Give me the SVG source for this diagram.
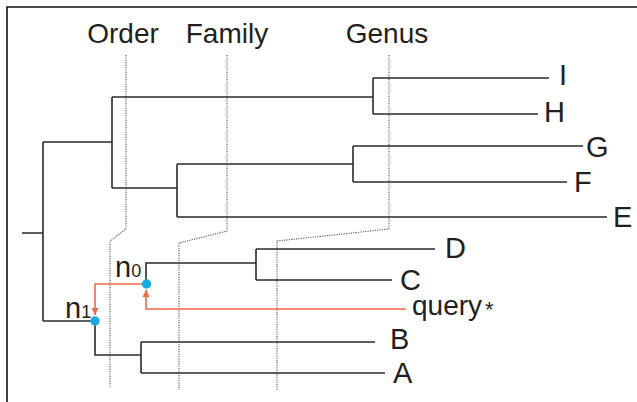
<svg xmlns="http://www.w3.org/2000/svg" width="637" height="402" viewBox="0 0 637 402">
<defs>
<style>
.t{font-family:"Liberation Sans",Arial,sans-serif;fill:#231f20}
.br{fill:none;stroke:#2b2b2b;stroke-width:1.6}
.dot{fill:none;stroke:#555;stroke-width:1.1;stroke-dasharray:1.2 1.2}
.or{fill:none;stroke:#ef6a45;stroke-width:1.6}
.node{fill:#1aaae2}
.lf{font-size:29px}
</style>
<marker id="ah" viewBox="0 0 10 10" refX="10" refY="5" markerWidth="7" markerHeight="9" markerUnits="userSpaceOnUse" orient="auto">
<path d="M0,0 L10,5 L0,10 Z" fill="#ef6a45"/>
</marker>
</defs>
<rect width="637" height="402" fill="#fff"/>
<g id="frame"><path d="M7,402 V7 H637" fill="none" stroke="#111" stroke-width="1.6"/></g>
<g id="ranks">
<text class="t" x="123" y="43" font-size="28" text-anchor="middle">Order</text>
<text class="t" x="227" y="43" font-size="28" text-anchor="middle">Family</text>
<text class="t" x="387" y="43" font-size="28" text-anchor="middle">Genus</text>
<path class="dot" d="M126,55 V229 L110,241 V388"/>
<path class="dot" d="M227,55 V231 L179,243 V390"/>
<path class="dot" d="M389,55 V229 L277,241 V390"/>
</g>
<g id="connectors">
<path class="br" d="M22,233 H43 M43,142 V321 M43,142 H112 M112,97 V188 M112,97 H373 M373,78 V114 M373,78 H549 M373,114 H538 M112,188 H177 M177,164 V217 M177,164 H353 M353,146 V182 M353,146 H583 M353,182 H567 M177,217 H607"/>
<path class="br" d="M43,321 H95 V355 H141 M141,342 V373 M141,342 H375 M141,373 H385"/>
<path class="br" d="M146,284 V263 H256 M256,249 V280 M256,249 H435 M256,280 H392"/>
<path class="or" d="M146,284 H95 V315" marker-end="url(#ah)"/>
<path class="or" d="M406,309 H146 V290" marker-end="url(#ah)"/>
</g>
<g id="n0"><circle class="node" cx="146.5" cy="284" r="4.7"/><text class="t" x="115" y="277" font-size="29">n<tspan font-size="18">0</tspan></text></g>
<g id="n1"><circle class="node" cx="95" cy="321" r="4.7"/><text class="t" x="65" y="318" font-size="29">n<tspan font-size="18">1</tspan></text></g>
<g id="I"><text class="t lf" x="559" y="85">I</text></g>
<g id="H"><text class="t lf" x="544" y="122">H</text></g>
<g id="G"><text class="t lf" x="586" y="157">G</text></g>
<g id="F"><text class="t lf" x="574" y="192">F</text></g>
<g id="E"><text class="t lf" x="613" y="227">E</text></g>
<g id="D"><text class="t lf" x="445" y="258">D</text></g>
<g id="C"><text class="t lf" x="400" y="290">C</text></g>
<g id="query"><text class="t" x="412" y="315" font-size="28">query<tspan font-size="22" dx="3" dy="2">*</tspan></text></g>
<g id="B"><text class="t lf" x="390" y="349">B</text></g>
<g id="A"><text class="t lf" x="393" y="383">A</text></g>
</svg>
